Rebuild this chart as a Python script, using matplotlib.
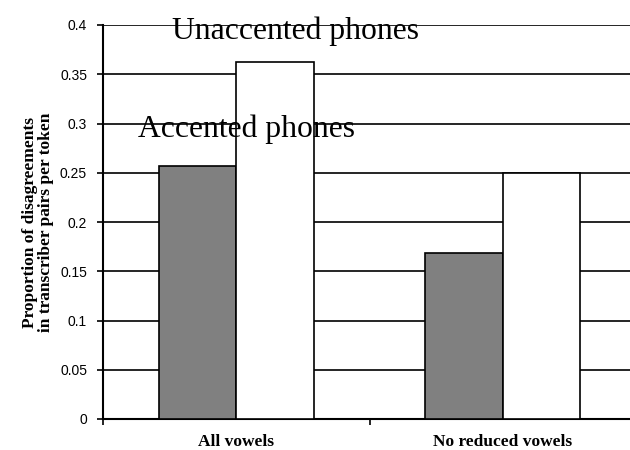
import matplotlib
matplotlib.use("Agg")
import matplotlib.pyplot as plt
import numpy as np

categories = ["All vowels", "No reduced vowels"]
accented = [0.257, 0.169]
unaccented = [0.362, 0.25]
series_labels = ["Accented phones", "Unaccented phones"]
y_ticks = [0, 0.05, 0.1, 0.15, 0.2, 0.25, 0.3, 0.35, 0.4]
y_tick_labels = ["0", "0.05", "0.1", "0.15", "0.2", "0.25", "0.3", "0.35", "0.4"]

W, H = 630, 450
fig = plt.figure(figsize=(W / 100, H / 100), dpi=100)
ax = fig.add_axes([103 / W, 1 - 419 / H, (636 - 103) / W, 394 / H])

x = np.arange(len(categories))
bw = 0.29
ax.bar(x - bw / 2, accented, bw, color="#808080", edgecolor="black", linewidth=1.2, zorder=3)
ax.bar(x + bw / 2, unaccented, bw, color="white", edgecolor="black", linewidth=1.2, zorder=3)

ax.set_xlim(-0.5, 1.5)
ax.set_ylim(0, 0.4)
ax.set_yticks(y_ticks)
ax.set_yticklabels(y_tick_labels, family="Liberation Sans", fontsize=10)
ax.yaxis.grid(True, color="black", linewidth=1.2, zorder=0)
ax.set_axisbelow(True)

ax.set_xticks([-0.5, 0.5, 1.5])
ax.set_xticklabels([])
ax.tick_params(axis="both", direction="out", length=4.5, width=1.2, color="black")
ax.tick_params(axis="y", pad=7)

for s in ["top", "right"]:
    ax.spines[s].set_visible(False)
for s in ["left", "bottom"]:
    ax.spines[s].set_linewidth(1.5)

# category names below the axis, baseline just above the lower edge
for xi, name in zip(x, categories):
    ax.text(xi, -0.027, name, ha="center", va="baseline", family="Liberation Serif",
            fontweight="bold", fontsize=12.5, transform=ax.transData)

ax.set_ylabel("Proportion of disagreements\nin transcriber pairs per token",
              family="Liberation Serif", fontweight="bold", fontsize=12.5,
              linespacing=0.95, labelpad=4.5)

# series names placed as free text in the plot area
fig.text(172 / W, 1 - 39 / H, series_labels[1], family="Liberation Serif",
         fontsize=22.8, ha="left", va="baseline")
fig.text(138 / W, 1 - 137 / H, series_labels[0], family="Liberation Serif",
         fontsize=22.8, ha="left", va="baseline")

fig.savefig("out.png", dpi=100)
